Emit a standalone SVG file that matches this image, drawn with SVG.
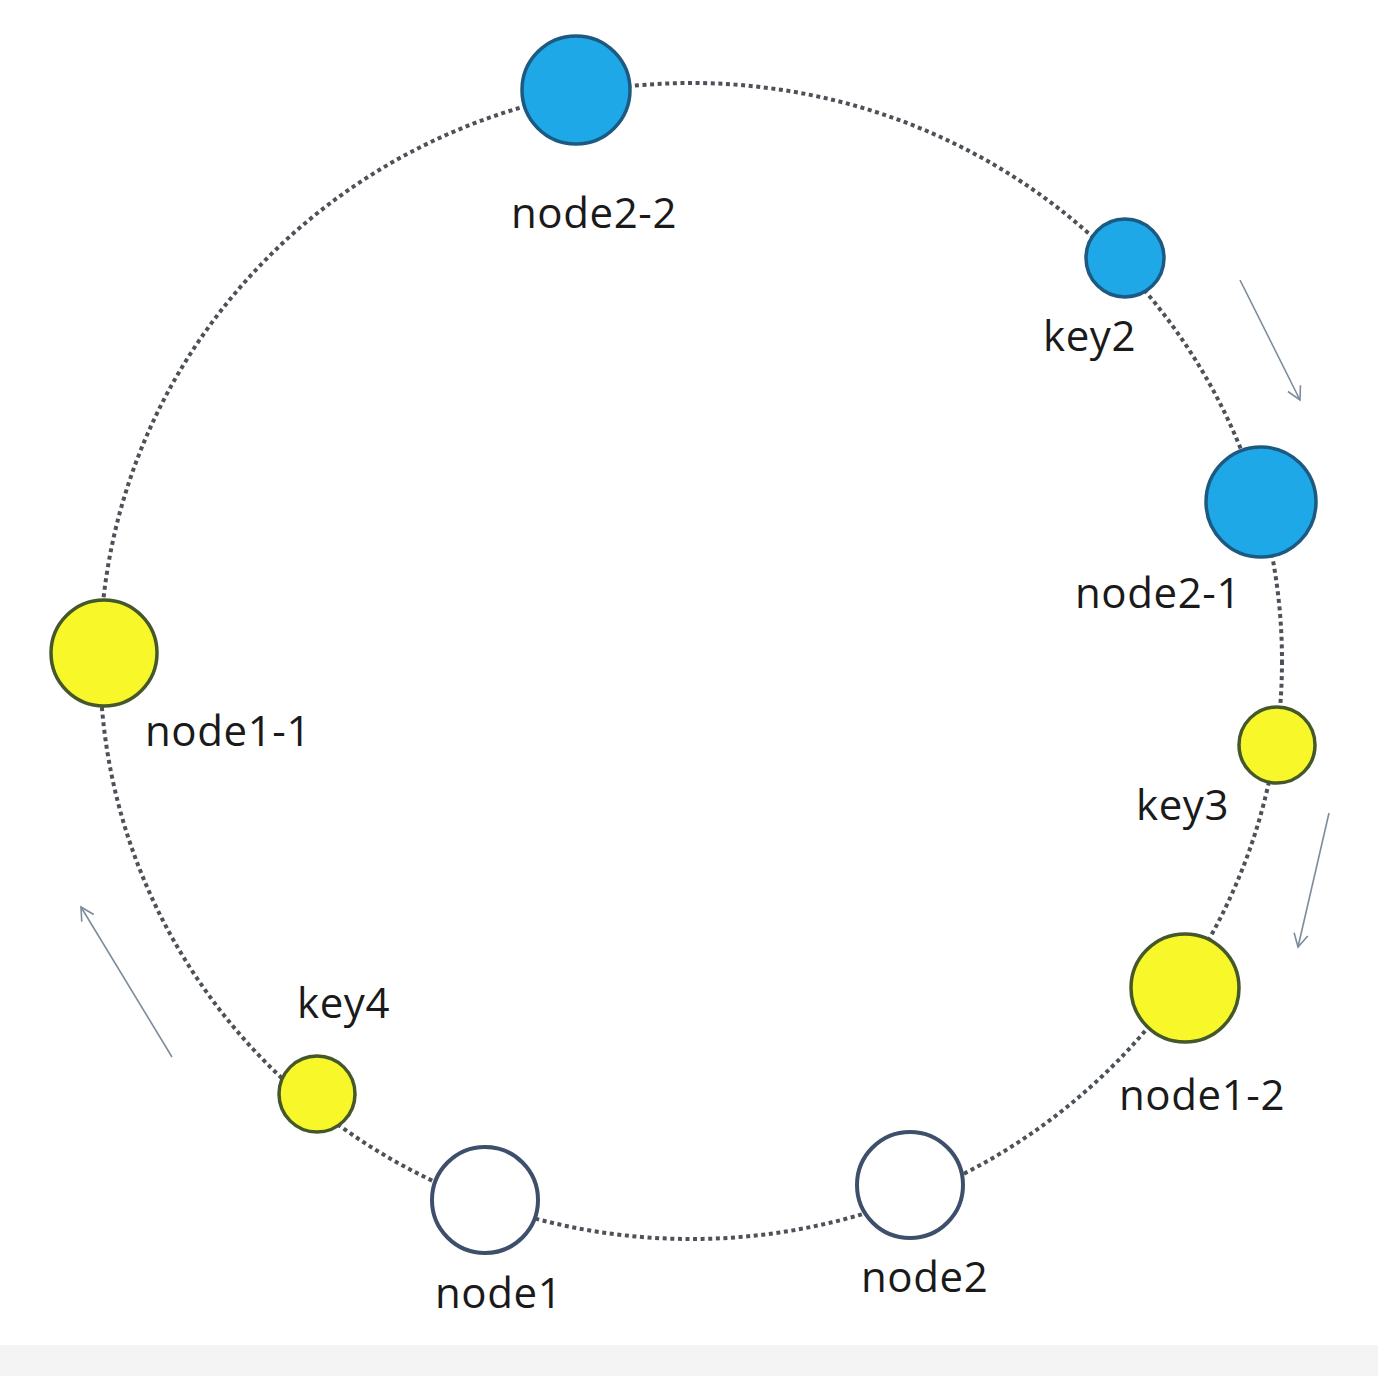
<svg xmlns="http://www.w3.org/2000/svg" width="1378" height="1376" viewBox="0 0 1378 1376">
<defs>
<style>
.lbl{font-family:"Open Sans","Liberation Sans",sans-serif;font-size:42px;fill:#1a1a1a;letter-spacing:0.6px}
.blue{fill:#1fa8e8;stroke:#1d5a82;stroke-width:3.5}
.yel{fill:#f7f72a;stroke:#44582a;stroke-width:3.5}
.wht{fill:#ffffff;stroke:#3d4f6b;stroke-width:4}
.ring{fill:none;stroke:#4d5258;stroke-width:4;stroke-dasharray:4 3.6}
.arr{fill:none;stroke:#7d8c9b;stroke-width:1.6;marker-end:url(#vhead)}
</style>
<marker id="vhead" viewBox="-14 -9 16 18" markerUnits="userSpaceOnUse" markerWidth="16" markerHeight="18" refX="0" refY="0" orient="auto">
<path d="M -13 -7 L 0 0 L -13 7" fill="none" stroke="#7d8c9b" stroke-width="1.6"/>
</marker>
</defs>
<rect x="0" y="0" width="1378" height="1376" fill="#ffffff"/>
<rect x="0" y="1345" width="1378" height="31" fill="#f4f4f4"/>
<g id="connectors">
<ellipse class="ring" cx="691" cy="661" rx="591" ry="578"/>
<line class="arr" x1="1240" y1="280" x2="1300" y2="400"/>
<line class="arr" x1="1329" y1="813" x2="1298" y2="947"/>
<line class="arr" x1="172" y1="1057" x2="81" y2="907"/>
</g>
<g id="node2-2"><circle class="blue" cx="576" cy="90" r="54"/><text class="lbl" x="511" y="228">node2-2</text></g>
<g id="key2"><circle class="blue" cx="1125" cy="258" r="39"/><text class="lbl" x="1043" y="351">key2</text></g>
<g id="node2-1"><circle class="blue" cx="1261" cy="502" r="55"/><text class="lbl" x="1075" y="608">node2-1</text></g>
<g id="node1-1"><circle class="yel" cx="104" cy="653" r="53"/><text class="lbl" x="145" y="746">node1-1</text></g>
<g id="key3"><circle class="yel" cx="1277" cy="745" r="38"/><text class="lbl" x="1136" y="820">key3</text></g>
<g id="node1-2"><circle class="yel" cx="1185" cy="988" r="54"/><text class="lbl" x="1119" y="1110">node1-2</text></g>
<g id="key4"><circle class="yel" cx="317" cy="1094" r="38"/><text class="lbl" x="297" y="1018">key4</text></g>
<g id="node1"><circle class="wht" cx="485" cy="1200" r="53"/><text class="lbl" x="435" y="1308">node1</text></g>
<g id="node2"><circle class="wht" cx="910" cy="1185" r="53"/><text class="lbl" x="861" y="1292">node2</text></g>
</svg>
